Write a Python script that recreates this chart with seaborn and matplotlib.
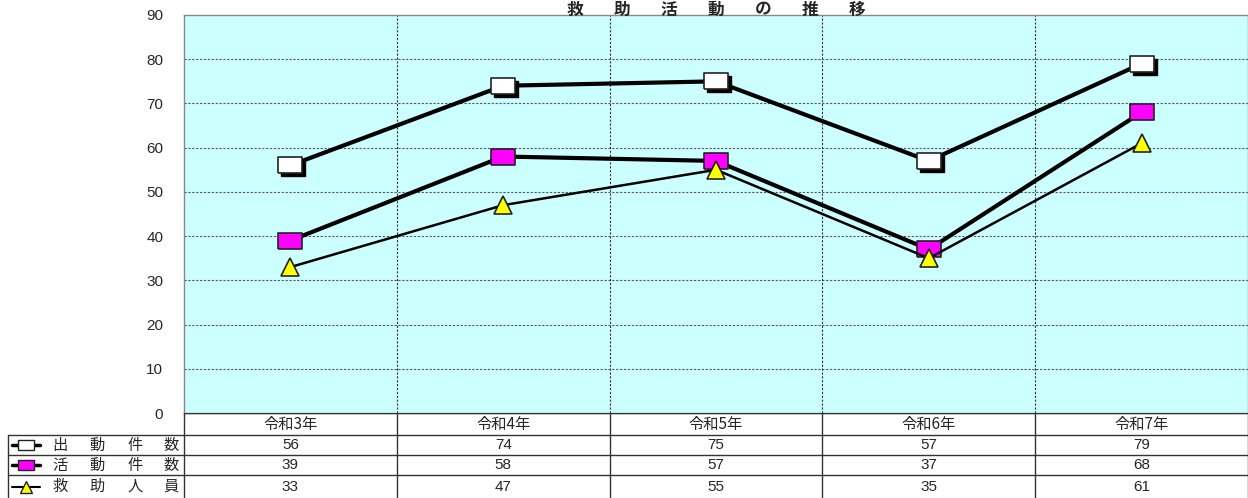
import matplotlib
matplotlib.use("Agg")
import matplotlib.pyplot as plt
import matplotlib.transforms as mtransforms
import seaborn as sns
import pandas as pd
import numpy as np

# données
categories = ["令和3年", "令和4年", "令和5年", "令和6年", "令和7年"]
series_names = ["出動件数", "活動件数", "救助人員"]
shutsudo = [56, 74, 75, 57, 79]
katsudo = [39, 58, 57, 37, 68]
kyujo = [33, 47, 55, 35, 61]
y_ticks = list(range(0, 100, 10))
title = "救助活動の推移"

values = [shutsudo, katsudo, kyujo]

sns.set_theme(style="white")
plt.rcParams["font.family"] = ["Liberation Sans", "Noto Sans CJK JP", "DejaVu Sans"]

W, H = 1248, 498
fig = plt.figure(figsize=(W / 100, H / 100), dpi=100)
fig.patch.set_facecolor("white")

# zone du graphique (pixels)
left, right, top, bottom = 184, 1248, 15, 413
ax = fig.add_axes([left / W, (H - bottom) / H, (right - left) / W, (bottom - top) / H])
ax.set_facecolor("#CCFFFF")

df = pd.DataFrame({
    "x": list(range(len(categories))) * 3,
    "y": shutsudo + katsudo + kyujo,
    "serie": sum([[n] * len(categories) for n in series_names], []),
})

rect = [(-1, -0.65), (1, -0.65), (1, 0.65), (-1, 0.65), (-1, -0.65)]
styles = {
    "出動件数": dict(color="black", lw=3, marker=rect, mfc="white", mec="#222222", ms=17, mew=1.2),
    "活動件数": dict(color="black", lw=3, marker=rect, mfc="#FF00FF", mec="#222222", ms=17, mew=1.2),
    "救助人員": dict(color="black", lw=1.8, marker="^", mfc="#FFFF00", mec="#222222", ms=13, mew=1.2),
}

# ombre des marqueurs blancs
shadow = mtransforms.offset_copy(ax.transData, fig=fig, x=3, y=-3, units="dots")
ax.plot(range(len(categories)), shutsudo, linestyle="none", marker=rect, ms=17,
        mfc="black", mec="black", transform=shadow, zorder=3)

for name in series_names:
    sub = df[df["serie"] == name]
    st = styles[name]
    sns.lineplot(data=sub, x="x", y="y", ax=ax, color=st["color"], linewidth=st["lw"],
                 marker=st["marker"], markerfacecolor=st["mfc"], markeredgecolor=st["mec"],
                 markersize=st["ms"], markeredgewidth=st["mew"], zorder=4)

ax.set_xlim(-0.5, len(categories) - 0.5)
ax.set_ylim(0, 90)
ax.set_yticks(y_ticks)
ax.set_yticklabels([str(t) for t in y_ticks], fontsize=11)
ax.tick_params(axis="y", length=0, pad=15)
ax.set_xticks([])
ax.set_xlabel("")
ax.set_ylabel("")
for t in y_ticks[1:-1]:
    ax.axhline(t, color="#555555", lw=0.8, ls=(0, (2, 1.5)), zorder=1)
for b in np.arange(0.5, len(categories) - 0.5, 1):
    ax.axvline(b, color="#333333", lw=0.8, ls=(0, (2, 1.5)), zorder=1)
for s in ax.spines.values():
    s.set_color("#888888")
    s.set_linewidth(1)

# titre, caractères espacés
title_step = 47
title_x0 = (left + right) / 2 - title_step * (len(title) - 1) / 2
for k, ch in enumerate(title):
    fig.text((title_x0 + k * title_step) / W, 1 - 0.5 / H, ch, ha="center", va="top",
             fontsize=12, fontweight="bold", family=["Noto Sans CJK JP"])

# tableau de données
tab = fig.add_axes([0, 0, 1, (H - bottom) / H])
tab.set_xlim(0, W)
tab.set_ylim(H - bottom, 0)
tab.axis("off")
col_w = (right - left) / len(categories)
row_edges = [0, 22, 42, 62, 85]
lc = "#333333"
tab.plot([left, right], [row_edges[0], row_edges[0]], color=lc, lw=1)
for r in row_edges[1:4]:
    tab.plot([8, right], [r, r], color=lc, lw=1)
tab.plot([8, 8], [row_edges[1], row_edges[-1]], color=lc, lw=1)
for i in range(len(categories) + 1):
    tab.plot([left + i * col_w] * 2, [0, row_edges[-1]], color=lc, lw=1)

for i, cat in enumerate(categories):
    cx = left + (i + 0.5) * col_w
    tab.text(cx, 11, cat, ha="center", va="center", fontsize=11, family=["Noto Sans CJK JP"])
    for j, vals in enumerate(values):
        cy = (row_edges[j + 1] + row_edges[j + 2]) / 2
        tab.text(cx, cy, str(vals[i]), ha="center", va="center", fontsize=11)

char_x = [60, 97, 135, 171]
for j, name in enumerate(series_names):
    cy = (row_edges[j + 1] + row_edges[j + 2]) / 2
    st = styles[name]
    tab.plot([12, 40], [cy, cy], color="black", lw=2.5 if j < 2 else 1.5)
    tab.plot([26], [cy], marker=st["marker"], mfc=st["mfc"], mec="#222222",
             ms=12 if j < 2 else 9, mew=1, linestyle="none")
    for k, ch in enumerate(name):
        tab.text(char_x[k], cy, ch, ha="center", va="center", fontsize=11,
                 family=["Noto Sans CJK JP"])

fig.savefig("out.png", dpi=100)
